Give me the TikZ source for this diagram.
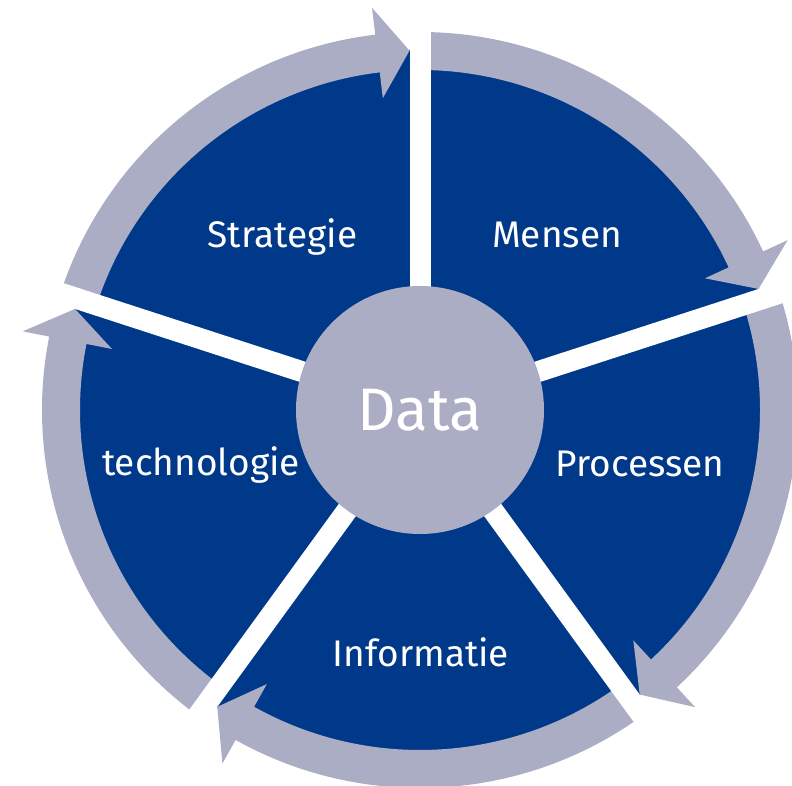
\documentclass[tikz,border=0pt]{standalone}
\usepackage{fontspec}
\setmainfont{Fira Sans}
\usetikzlibrary{positioning}

\definecolor{cycleblue}{HTML}{003989}
\definecolor{cyclegray}{HTML}{AAADC4}

\begin{document}
\begin{tikzpicture}[
		x=1pt, y=1pt,
		% Segment labels
		seglabel/.style={text=white, anchor=base, inner sep=0pt,
			font=\fontsize{37}{44}\selectfont},
		% White cuts between the segments
		gapline/.style={draw=white, line width=21pt},
		% Core circle
		core/.style={circle, fill=cyclegray, minimum size=248pt, inner sep=0pt,
			text=white, font=\fontsize{60}{70}\selectfont}
		]
		
		\useasboundingbox (-420,-376) rectangle (372,410);
		
		% === SEGMENTS ===
		
		% Blue disc under everything
		\fill[cycleblue] (0,0) circle (360);
		
		% Gray arrows, clockwise, head at the next cut
		\foreach \a in {162,90,18,-54,-126} {
			\pgfmathsetmacro\hb{\a-72+6.8}
			\pgfmathsetmacro\tp{\a-72+1.67}
			\fill[cyclegray] (\a:378) arc[start angle=\a, end angle=\hb, radius=378]
			-- (\hb:405) -- (\tp:359.5) -- (\hb:314) -- (\hb:340)
			arc[start angle=\hb, end angle=\a, radius=340] -- cycle;
		}
		
		% Cuts
		\foreach \a in {162,90,18,-54,-126}
		\draw[gapline] (0,0) -- (\a:420);
		
		% === NODES ===
		
		\node[core] (data) at (0,0) {Data};
		
		\node[seglabel] (strategie) at (-137.5,162) {Strategie};
		\node[seglabel] (mensen) at (137,162) {Mensen};
		\node[seglabel] (processen) at (220,-67) {Processen};
		\node[seglabel] (informatie) at (1,-257) {Informatie};
		\node[seglabel] (technologie) at (-219,-66) {technologie};
		
	\end{tikzpicture}
\end{document}
